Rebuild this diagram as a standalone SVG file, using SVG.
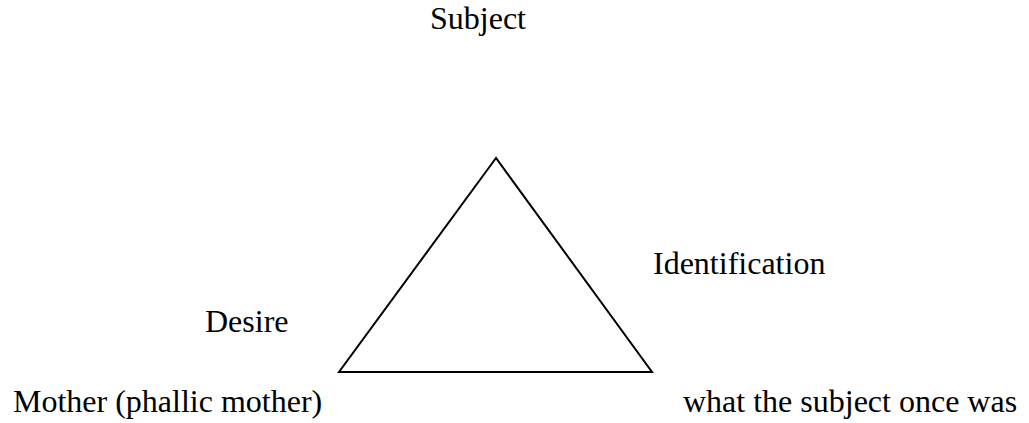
<svg xmlns="http://www.w3.org/2000/svg" width="1029" height="423" viewBox="0 0 1029 423">
<style>
.t{font-family:"Liberation Serif","Times New Roman",serif;font-size:32px;fill:#000}
.e{fill:none;stroke:#000;stroke-width:2;stroke-linejoin:miter}
</style>
<rect width="1029" height="423" fill="#fff"/>
<g id="connectors">
<polygon class="e" points="496,158 339,372 652,372"/>
</g>
<g id="subject"><text class="t" x="430" y="29">Subject</text></g>
<g id="identification"><text class="t" x="653" y="274">Identification</text></g>
<g id="desire"><text class="t" x="205" y="332">Desire</text></g>
<g id="mother"><text class="t" x="13" y="412">Mother (phallic mother)</text></g>
<g id="once-was"><text class="t" x="683" y="412">what the subject once was</text></g>
</svg>
